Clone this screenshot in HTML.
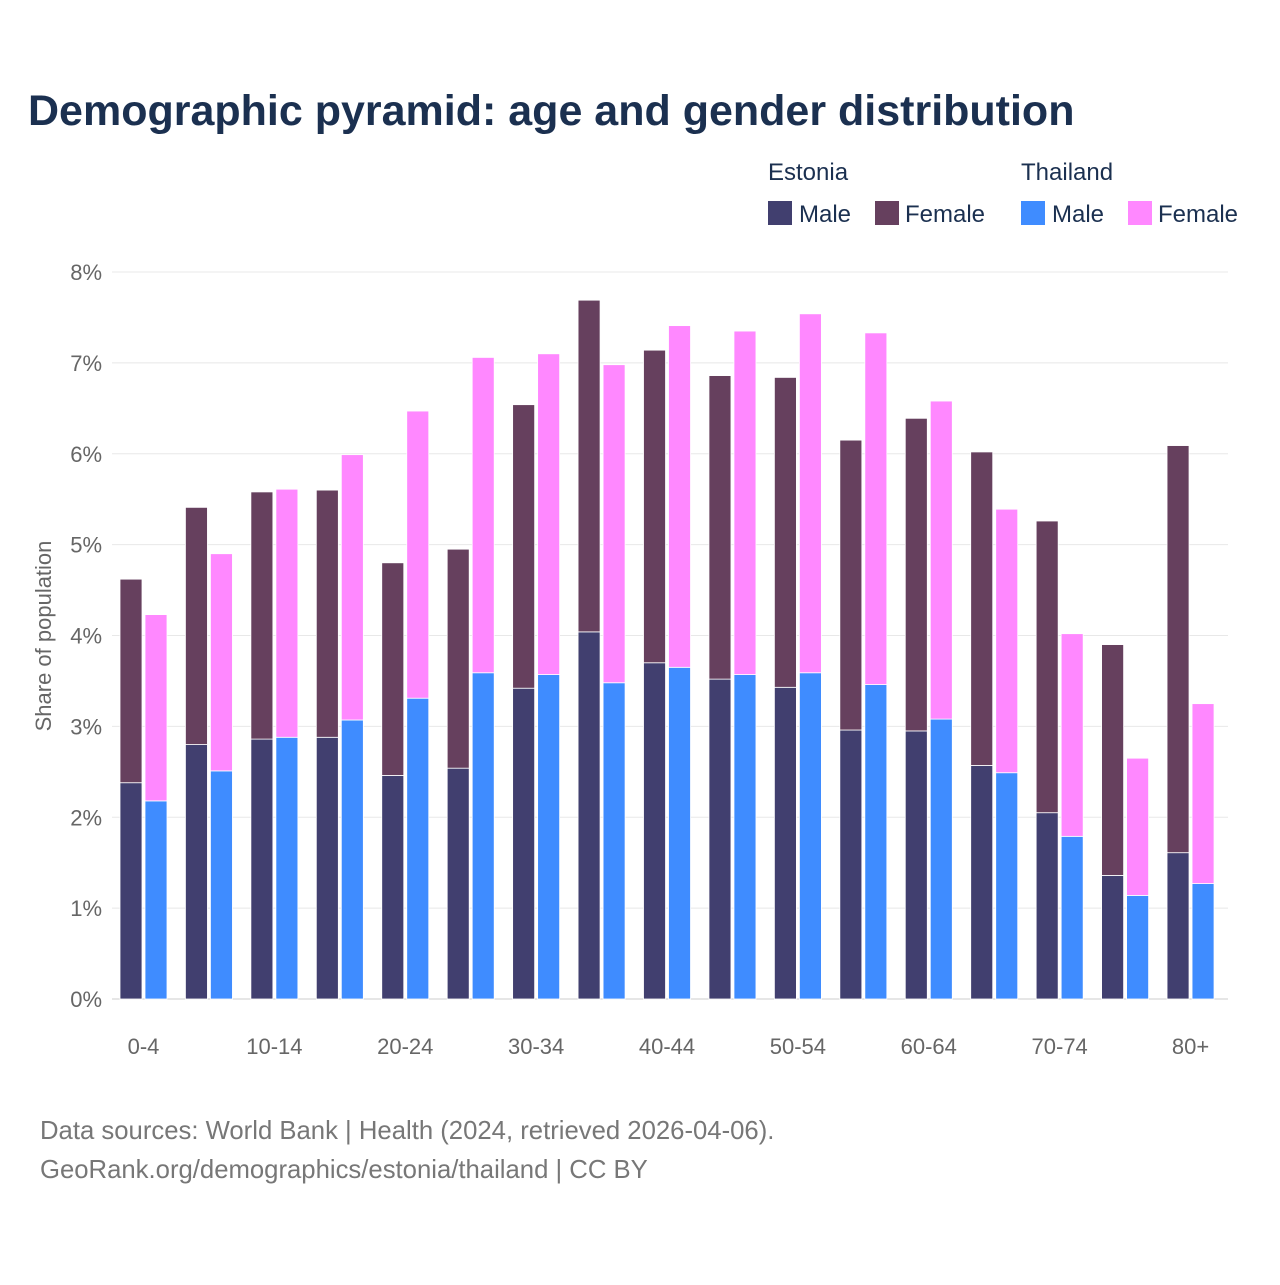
<!DOCTYPE html>
<html><head><meta charset="utf-8"><style>
body{margin:0;background:#fff;font-family:"Liberation Sans",sans-serif;}
svg text{font-family:"Liberation Sans",sans-serif;}
</style></head><body>
<svg id="c" width="1280" height="1280" xmlns="http://www.w3.org/2000/svg">
<rect width="1280" height="1280" fill="#fff"/>
<text x="28" y="125" font-size="43" font-weight="bold" fill="#1b3050">Demographic pyramid: age and gender distribution</text>
<g font-size="24" fill="#1b3050">
<text x="768" y="180" fill="#1b3050">Estonia</text>
<text x="1021" y="180" fill="#1b3050">Thailand</text>
<rect x="768" y="201" width="24" height="24" fill="#413f6f"/>
<text x="799" y="222" fill="#1b3050">Male</text>
<rect x="875" y="201" width="24" height="24" fill="#66405e"/>
<text x="905" y="222" fill="#1b3050">Female</text>
<rect x="1021" y="201" width="24" height="24" fill="#3f8cff"/>
<text x="1052" y="222" fill="#1b3050">Male</text>
<rect x="1128" y="201" width="24" height="24" fill="#ff88ff"/>
<text x="1158" y="222" fill="#1b3050">Female</text>
</g>
<g id="grid"></g>
<g id="bars"></g>
<g id="xl"></g>
<text transform="translate(51,636) rotate(-90)" text-anchor="middle" font-size="22" fill="#666">Share of population</text>
<text x="40" y="1139" font-size="25.7" fill="#777">Data sources: World Bank | Health (2024, retrieved 2026-04-06).</text>
<text x="40" y="1178" font-size="25.7" fill="#777">GeoRank.org/demographics/estonia/thailand | CC BY</text>
</svg>
<script>
const categories=["0-4","5-9","10-14","15-19","20-24","25-29","30-34","35-39","40-44","45-49","50-54","55-59","60-64","65-69","70-74","75-79","80+"];
const estMale=[2.38,2.80,2.86,2.88,2.46,2.54,3.42,4.04,3.70,3.52,3.43,2.96,2.95,2.57,2.05,1.36,1.61];
const estTotal=[4.62,5.41,5.58,5.60,4.80,4.95,6.54,7.69,7.14,6.86,6.84,6.15,6.39,6.02,5.26,3.90,6.09];
const thaMale=[2.18,2.51,2.88,3.07,3.31,3.59,3.57,3.48,3.65,3.57,3.59,3.46,3.08,2.49,1.79,1.14,1.27];
const thaTotal=[4.23,4.90,5.61,5.99,6.47,7.06,7.10,6.98,7.41,7.35,7.54,7.33,6.58,5.39,4.02,2.65,3.25];
const yTicks=[0,1,2,3,4,5,6,7,8];
const NS="http://www.w3.org/2000/svg";
const y=v=>999-v*90.875;
const xc=i=>143.5+i*65.44;
function mk(t,a,p){const e=document.createElementNS(NS,t);for(const k in a)e.setAttribute(k,a[k]);p.appendChild(e);return e;}
const grid=document.getElementById('grid'),bars=document.getElementById('bars'),xl=document.getElementById('xl');
yTicks.forEach(v=>{
 const l=mk('line',{x1:112,x2:1228,y1:y(v),y2:y(v),stroke:v===0?'#ccc':'#e8e8e8','stroke-width':1},grid);
 
 
 const t=mk('text',{x:102,y:y(v)+8,'text-anchor':'end','font-size':22,fill:'#666'},grid);
 t.textContent=v+'%';
 
 
});
function bar(x,v0,v1,col,name){
 const r=mk('rect',{x:x,y:y(v1),width:22,height:y(v0)-y(v1),fill:col,stroke:'#fff','stroke-width':0.8},bars);
 
 
}
categories.forEach((c,i)=>{
 const cx=xc(i);
 bar(cx-23.5,0,estMale[i],'#413f6f','bar-estonia-male-'+c);
 bar(cx-23.5,estMale[i],estTotal[i],'#66405e','bar-estonia-female-'+c);
 bar(cx+1.5,0,thaMale[i],'#3f8cff','bar-thailand-male-'+c);
 bar(cx+1.5,thaMale[i],thaTotal[i],'#ff88ff','bar-thailand-female-'+c);
 if(i%2===0){
  const t=mk('text',{x:cx,y:1054,'text-anchor':'middle','font-size':22,fill:'#666'},xl);
  t.textContent=c;
  
  
 }
});
</script>
</body></html>
